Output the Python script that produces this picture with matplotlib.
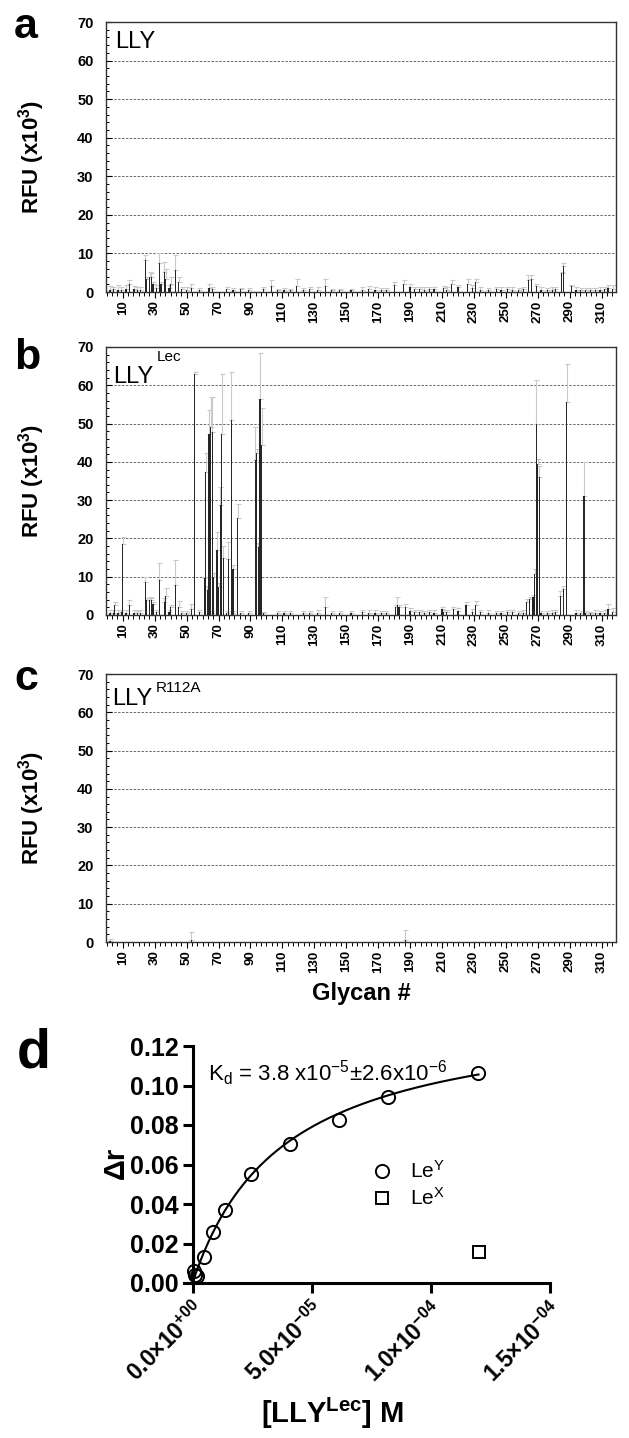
import matplotlib
matplotlib.use('Agg')

import matplotlib.pyplot as plt
import numpy as np
from matplotlib.ticker import MultipleLocator
from matplotlib.lines import Line2D

plt.rcParams['font.family'] = ['Liberation Sans', 'DejaVu Sans']
plt.rcParams['mathtext.default'] = 'regular'

W, H = 629, 1438

# ---- glycan array data (RFU x10^3), mean and upper error ----
# panel a: LLY
a_glycan = [14, 24, 25, 27, 28, 29, 33, 34, 36, 37, 40, 43, 45, 53, 64, 103, 119, 137,
            180, 186, 216, 226, 231, 264, 266, 269, 285, 286, 291, 314]
a_rfu = [2.2, 8.3, 3.3, 4.0, 3.8, 2.0, 7.4, 2.0, 5.3, 3.5, 2.0, 5.7, 2.5, 1.0, 1.0, 1.5, 1.5, 1.5,
         1.8, 2.0, 2.0, 2.0, 2.5, 3.0, 3.5, 1.5, 4.8, 6.7, 1.5, 1.0]
a_err = [0.8, 1.3, 0.5, 1.3, 1.0, 0.5, 2.6, 0.5, 2.5, 2.5, 2.0, 3.9, 1.5, 1.2, 1.0, 1.5, 1.8, 1.8,
         0.8, 1.0, 1.0, 1.5, 0.8, 1.5, 1.0, 0.5, 0.5, 0.9, 0.3, 0.8]

# low background glycans (shared positions for a and b)
bg_glycan = [2, 4, 7, 9, 12, 17, 19, 21, 31, 39, 47, 50, 58, 66, 75, 79, 84, 89, 98, 107,
             111, 115, 123, 127, 132, 141, 146, 153, 160, 164, 168, 172, 175, 190, 193, 196,
             199, 202, 205, 211, 213, 220, 229, 234, 239, 244, 247, 251, 254, 258, 261, 272,
             276, 279, 281, 294, 297, 300, 303, 306, 309, 312, 317]
a_bg_rfu = [0.6, 0.8, 0.5, 0.6, 0.8, 0.7, 0.5, 0.6, 1.0, 1.0, 0.8, 0.6, 0.5, 0.8, 0.8, 0.5,
            0.7, 0.6, 0.7, 0.5, 0.6, 0.4, 0.6, 0.7, 0.5, 0.4, 0.5, 0.4, 0.6, 0.7, 0.5, 0.4,
            0.5, 1.2, 0.7, 0.8, 0.6, 0.9, 0.7, 1.0, 0.6, 1.2, 1.0, 0.6, 0.5, 0.7, 0.5, 0.9,
            0.6, 0.4, 0.7, 0.6, 0.5, 0.6, 0.8, 0.5, 0.6, 0.4, 0.4, 0.5, 0.6, 0.7, 0.8]
a_bg_err = [1.0, 0.6, 1.2, 0.8, 0.9, 0.8, 0.7, 0.6, 0.8, 0.8, 0.6, 0.8, 0.6, 0.4, 0.5, 0.6,
            0.4, 0.5, 0.5, 0.4, 0.5, 0.5, 0.5, 0.6, 0.7, 0.5, 0.4, 0.5, 0.7, 0.8, 0.8, 0.6,
            0.5, 0.8, 0.6, 0.6, 0.6, 0.5, 0.7, 0.6, 0.7, 0.5, 0.8, 0.7, 0.6, 0.5, 0.7, 0.5,
            0.6, 0.6, 0.7, 0.7, 0.6, 0.8, 0.6, 0.9, 0.5, 0.6, 0.7, 0.5, 0.6, 0.6, 0.9]

# panel b: LLY^Lec
b_glycan = [5, 10, 14, 24, 25, 27, 28, 29, 33, 36, 37, 40, 43, 45, 53, 55, 61, 62, 63, 64,
            65, 66, 67, 69, 70, 71, 72, 73, 76, 78, 79, 82, 93, 94, 95, 96, 97, 137, 181,
            182, 183, 187, 210, 217, 225, 231, 263, 265, 267, 268, 269, 270, 271, 284, 286,
            288, 299, 314]
b_rfu = [2.5, 18.5, 2.5, 8.7, 4.0, 4.0, 4.0, 3.0, 9.1, 3.5, 5.0, 2.0, 7.8, 2.0, 1.5, 63.0,
         9.6, 37.4, 6.5, 47.4, 49.1, 47.8, 10.0, 17.0, 7.3, 28.7, 47.4, 15.0, 14.7, 51.0,
         12.0, 25.3, 40.5, 42.3, 17.7, 56.5, 44.3, 2.0, 2.0, 2.6, 2.0, 2.0, 1.5, 1.5, 2.5,
         2.7, 3.3, 4.2, 4.6, 10.7, 50.0, 39.5, 36.0, 5.0, 6.8, 55.7, 31.2, 1.5]
b_err = [1.0, 2.0, 1.5, 1.3, 0.5, 0.8, 0.5, 0.5, 4.6, 1.0, 2.0, 0.5, 6.5, 1.7, 1.5, 0.5,
         0.4, 4.8, 1.0, 6.1, 7.9, 9.2, 1.0, 4.7, 1.0, 4.8, 15.6, 3.0, 4.3, 12.6, 1.0, 3.6,
         8.5, 1.0, 1.0, 11.9, 9.7, 2.7, 0.5, 2.2, 0.5, 1.0, 0.5, 0.5, 1.0, 1.0, 0.8, 0.5,
         0.5, 1.3, 11.5, 1.3, 3.0, 1.3, 0.8, 9.8, 8.8, 1.3]
b_bg_rfu = [0.5, 0.6, 0.4, 0.7, 0.5, 0.6, 0.4, 0.5, 0.8, 0.7, 0.6, 0.5, 0.7, 0.4, 0.6, 0.5,
            0.6, 0.5, 0.4, 0.5, 0.6, 0.5, 0.5, 0.6, 0.5, 0.4, 0.6, 0.5, 0.7, 0.6, 0.5, 0.6,
            0.4, 1.0, 0.8, 0.7, 0.6, 0.8, 0.6, 0.9, 0.7, 1.1, 0.9, 0.7, 0.6, 0.6, 0.5, 0.8,
            0.7, 0.5, 0.6, 0.5, 0.6, 0.5, 0.7, 0.6, 0.5, 0.5, 0.4, 0.6, 0.5, 0.6, 0.9]
b_bg_err = [0.8, 0.7, 0.8, 0.6, 0.7, 0.6, 0.6, 0.7, 0.6, 0.7, 0.5, 0.6, 0.5, 0.6, 0.5, 0.6,
            0.5, 0.6, 0.5, 0.6, 0.5, 0.6, 0.6, 0.5, 0.7, 0.6, 0.5, 0.6, 0.7, 0.6, 0.7, 0.5,
            0.6, 0.7, 0.5, 0.6, 0.5, 0.6, 0.7, 0.5, 0.6, 0.6, 0.7, 0.5, 0.6, 0.5, 0.6, 0.5,
            0.6, 0.5, 0.6, 0.6, 0.5, 0.7, 0.5, 0.8, 0.5, 0.6, 0.5, 0.6, 0.5, 0.6, 0.8]

# panel c: LLY^R112A
c_glycan = [2, 53, 187]
c_rfu = [0.3, 0.5, 0.6]
c_err = [0.5, 2.0, 2.6]

glycan_ticks = list(range(10, 311, 20))

# ---- panel d: fluorescence anisotropy ----
ley_conc = [0.5e-6, 1.2e-6, 1.7e-6, 4.7e-6, 8.6e-6, 13.8e-6, 24.6e-6, 41.0e-6, 61.4e-6,
            82.1e-6, 119.9e-6]
ley_dr = [0.0059, 0.0042, 0.0034, 0.0131, 0.0258, 0.0371, 0.0551, 0.0706, 0.0824, 0.0940,
          0.1062]
lex_conc = [120.0e-6]
lex_dr = [0.0155]
kd_fit = 3.8e-5
bmax_fit = 0.139


def px(x, y):
    return x / W, 1 - y / H


def draw_array(ax, glycan, rfu, err, bg=None):
    g = list(glycan)
    v = list(rfu)
    e = list(err)
    if bg is not None:
        g += list(bg[0])
        v += list(bg[1])
        e += list(bg[2])
    g = np.array(g)
    v = np.array(v)
    e = np.array(e)
    ax.errorbar(g, v, yerr=[np.zeros(len(e)), e], fmt='none', ecolor='#c9c9c9',
                elinewidth=0.8, capsize=1.8, capthick=0.8, zorder=2)
    ax.bar(g, v, width=0.75, color='#262626', linewidth=0, zorder=3)

    ax.set_xlim(-0.5, 319)
    ax.set_ylim(0, 70)
    ax.set_yticks(range(0, 71, 10))
    ax.yaxis.set_minor_locator(MultipleLocator(2))
    ax.set_xticks(glycan_ticks)
    ax.set_xticklabels([str(t) for t in glycan_ticks], rotation=90, fontsize=9.5,
                       fontweight='bold')
    ax.xaxis.set_minor_locator(MultipleLocator(10 / 3))
    for lab in ax.get_yticklabels():
        lab.set_fontweight('bold')
        lab.set_fontsize(10.5)
    ax.tick_params(axis='y', which='major', direction='in', length=4, width=0.8, pad=9)
    ax.tick_params(axis='y', which='minor', direction='in', length=2.5, width=0.7)
    ax.tick_params(axis='x', which='major', direction='out', length=4, width=0.8, pad=2)
    ax.tick_params(axis='x', which='minor', direction='out', length=3, width=0.7)
    ax.set_axisbelow(True)
    ax.grid(axis='y', color='#6a6a6a', linestyle=(0, (2.5, 1.5)), linewidth=0.7)
    for sp in ax.spines.values():
        sp.set_linewidth(1.0)
        sp.set_color('#333333')


fig = plt.figure(figsize=(W / 100, H / 100), dpi=100)

ax_a = fig.add_axes([106 / W, 1 - 292 / H, 510 / W, 270 / H])
ax_b = fig.add_axes([106 / W, 1 - 615 / H, 510 / W, 268 / H])
ax_c = fig.add_axes([106 / W, 1 - 942 / H, 510 / W, 268 / H])

draw_array(ax_a, a_glycan, a_rfu, a_err, (bg_glycan, a_bg_rfu, a_bg_err))
draw_array(ax_b, b_glycan, b_rfu, b_err, (bg_glycan, b_bg_rfu, b_bg_err))
draw_array(ax_c, c_glycan, c_rfu, c_err)

# panel names
fig.text(*px(115, 48), 'LLY', fontsize=17)
fig.text(*px(113, 383), 'LLY', fontsize=17)
fig.text(*px(157, 361), 'Lec', fontsize=11)
fig.text(*px(112, 705), 'LLY', fontsize=17)
fig.text(*px(156, 692), 'R112A', fontsize=11)

# y labels
for yc in [157, 481, 808]:
    fig.text(*px(32, yc), 'RFU (x10$^{3}$)', rotation=90, fontsize=16,
             fontweight='bold', ha='center', va='center')
fig.text(*px(361, 1000), 'Glycan #', fontsize=17, fontweight='bold', ha='center')

# panel letters
for lab, xb, yb, fs in [('a', 14, 38, 31), ('b', 14, 369, 31), ('c', 14, 690, 31),
                        ('d', 17, 1067, 40)]:
    fig.text(*px(xb, yb), lab, fontsize=fs, fontweight='bold')

# ---- panel d ----
ax_d = fig.add_axes([184.4 / W, 1 - 1283 / H, (550 - 184.4) / W, 237 / H])
xfit = np.linspace(0, 1.2e-4, 200)
yfit = bmax_fit * xfit / (kd_fit + xfit)
ax_d.plot(xfit, yfit, color='black', lw=1.5, zorder=3)
ax_d.plot(ley_conc, ley_dr, 'o', ms=9.5, mfc='none', mec='black', mew=1.4,
          clip_on=False, zorder=4)
ax_d.plot(lex_conc, lex_dr, 's', ms=8.5, mfc='none', mec='black', mew=1.4,
          clip_on=False, zorder=4)

ax_d.set_xlim(-3.4e-6, 1.5e-4)
ax_d.set_ylim(0, 0.12)
ax_d.spines['top'].set_visible(False)
ax_d.spines['right'].set_visible(False)
ax_d.spines['left'].set_position(('data', 0))
for sp in ['left', 'bottom']:
    ax_d.spines[sp].set_linewidth(2.2)
ax_d.set_yticks(np.arange(0, 0.121, 0.02))
ax_d.set_yticklabels(['%.2f' % v for v in np.arange(0, 0.121, 0.02)],
                     fontsize=18, fontweight='bold')
ax_d.set_xticks([0, 5e-5, 1e-4, 1.5e-4])
ax_d.set_xticklabels(['0.0×10$^{+00}$', '5.0×10$^{-05}$', '1.0×10$^{-04}$',
                      '1.5×10$^{-04}$'], rotation=45, ha='right',
                     rotation_mode='anchor', fontsize=16.5, fontweight='bold')
ax_d.tick_params(axis='both', direction='out', length=7, width=2.2)
ax_d.tick_params(axis='y', pad=3)
ax_d.tick_params(axis='x', pad=4)

fig.text(*px(208, 1081), 'K$_{d}$ = 3.8 x10$^{-5}$±2.6x10$^{-6}$', fontsize=16)

handles = [Line2D([], [], marker='o', ls='none', ms=9.5, mfc='none', mec='black', mew=1.4),
           Line2D([], [], marker='s', ls='none', ms=8.5, mfc='none', mec='black', mew=1.4)]
ax_d.legend(handles, ['Le$^{Y}$', 'Le$^{X}$'], loc='upper left',
            bbox_to_anchor=px(372, 1160), bbox_transform=fig.transFigure,
            frameon=False, fontsize=15, handlelength=1.0, handletextpad=0.8,
            labelspacing=0.25, borderpad=0, borderaxespad=0)

fig.text(*px(116, 1163), 'Δr', rotation=90, fontsize=21, fontweight='bold',
         ha='center', va='center')
fig.text(*px(333, 1413), '[LLY$^{Lec}$] M', fontsize=21, fontweight='bold',
         ha='center', va='center')

fig.savefig('out.png', dpi=100)
